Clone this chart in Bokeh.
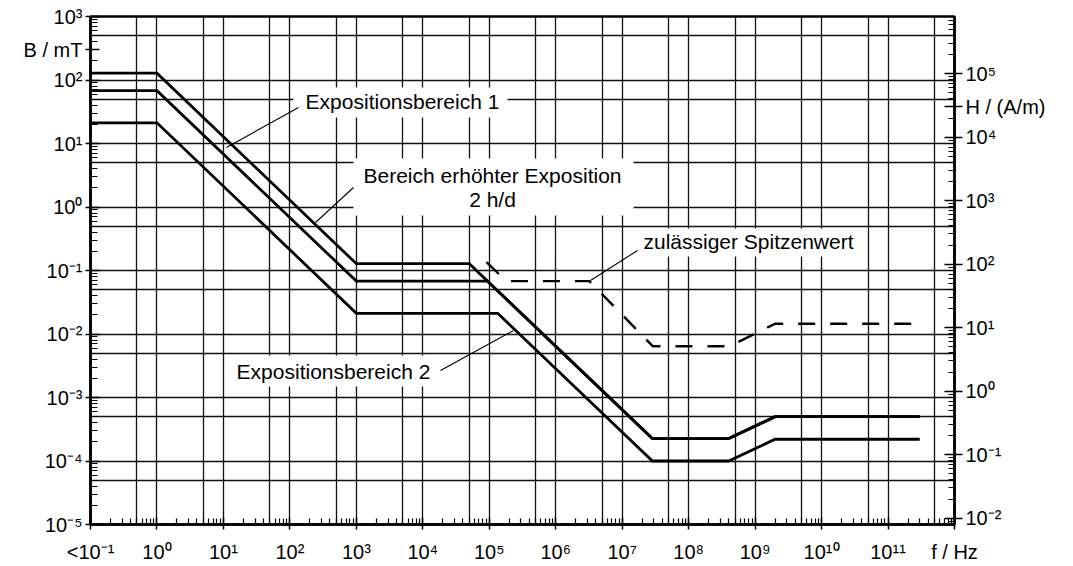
from bokeh.plotting import figure
from bokeh.models import Range1d, LogScale, LogAxis, FixedTicker, Label
from bokeh.embed import file_html
from bokeh.resources import INLINE

# ---------------- data ----------------
# Bereich erhöhter Exposition (2 h/d)
f_top = [0.1, 1, 1e3, 5e4, 2.85e7, 4e8, 2e9, 3e11]
B_top = [128, 128, 0.128, 0.128, 2.25e-4, 2.25e-4, 5.0e-4, 5.0e-4]
# Expositionsbereich 1
f_mid = [0.1, 1, 1e3, 9.4e4, 2.85e7, 4e8, 2e9, 3e11]
B_mid = [68, 68, 0.068, 0.068, 2.25e-4, 2.25e-4, 5.0e-4, 5.0e-4]
# Expositionsbereich 2
f_bot = [0.1, 1, 1e3, 1.34e5, 2.85e7, 4e8, 2e9, 3e11]
B_bot = [21.2, 21.2, 0.0212, 0.0212, 1.0e-4, 1.0e-4, 2.2e-4, 2.2e-4]
# zulässiger Spitzenwert
f_peak = [9.1e4, 1.8e5, 3.2e6, 2.9e7, 4.1e8, 2e9, 3e11]
B_peak = [0.135, 0.068, 0.068, 0.0064, 0.0064, 0.0145, 0.0145]

x_exp = list(range(-1, 12))
y_exp = list(range(-5, 4))
h_exp = list(range(-2, 6))
x_labels = ["<10⁻¹", "10⁰", "10¹", "10²", "10³", "10⁴", "10⁵", "10⁶", "10⁷",
            "10⁸", "10⁹", "10¹⁰", "10¹¹"]
y_labels = ["10⁻⁵", "10⁻⁴", "10⁻³", "10⁻²", "10⁻¹", "10⁰", "10¹", "10²", "10³"]
h_labels = ["10⁻²", "10⁻¹", "10⁰", "10¹", "10²", "10³", "10⁴", "10⁵"]

# axis titles, carried by an extra labelled tick on each axis
x_title, x_title_at = "f / Hz", 1e12
y_title, y_title_at = "B / mT", 300.0
h_title, h_title_at = "H / (A/m)", 3e4

MT_TO_AM = 1e-3 / (4e-7 * 3.141592653589793)  # B in mT -> H in A/m

FONT = "Liberation Sans"

# reference-pixel -> data helpers for annotation placement
def fx(px):
    return 10 ** (-1 + (px - 90) * 13 / 864)

def by(py):
    return 10 ** (3 - (py - 16) * 8 / 508)

p = figure(width=1072, height=565, x_axis_type="log", y_axis_type="log",
           x_range=Range1d(0.1, 1e12), y_range=Range1d(1e-5, 1e3),
           output_backend="svg", toolbar_location=None, title=None,
           min_border_left=90, min_border_right=118, min_border_top=16,
           min_border_bottom=41)
p.background_fill_color = "white"
p.border_fill_color = "white"
p.outline_line_color = "black"
p.outline_line_width = 2.5

# ticks
xt = [10.0 ** e for e in x_exp]
xm = [k * 10.0 ** e for e in x_exp for k in range(2, 10)]
yt = [10.0 ** e for e in y_exp]
ym = [k * 10.0 ** e for e in y_exp[:-1] for k in range(2, 10)]
ht = [10.0 ** e for e in h_exp]
hm = [k * 10.0 ** e for e in range(-3, 6) for k in range(2, 10)]

xa = p.xaxis[0]
xa.ticker = FixedTicker(ticks=xt + [x_title_at], minor_ticks=xm)
xo = dict(zip(xt, x_labels))
xo[x_title_at] = x_title
xa.major_label_overrides = xo
xa.major_tick_in = 7
xa.major_tick_out = 5
xa.minor_tick_in = 6
xa.minor_tick_out = 0
xa.major_label_standoff = 11

ya = p.yaxis[0]
ya.ticker = FixedTicker(ticks=yt + [y_title_at], minor_ticks=ym)
yo = dict(zip(yt, y_labels))
yo[y_title_at] = y_title
ya.major_label_overrides = yo
ya.major_tick_in = 9
ya.major_tick_out = 5
ya.minor_tick_in = 7
ya.minor_tick_out = 0
ya.major_label_standoff = 3

p.extra_y_ranges = {"H": Range1d(1e-5 * MT_TO_AM, 1e3 * MT_TO_AM)}
p.extra_y_scales = {"H": LogScale()}
ha = LogAxis(y_range_name="H", ticker=FixedTicker(ticks=ht + [h_title_at], minor_ticks=hm))
ho = dict(zip(ht, h_labels))
ho[h_title_at] = h_title
ha.major_label_overrides = ho
ha.major_tick_in = 10
ha.major_tick_out = 8
ha.minor_tick_in = 6
ha.minor_tick_out = 0
ha.major_label_standoff = 3
p.add_layout(ha, "right")

for ax in (xa, ya, ha):
    ax.axis_line_width = 2.5
    ax.axis_line_color = "black"
    ax.major_tick_line_width = 1.5
    ax.minor_tick_line_width = 1.2
    ax.major_tick_line_color = "black"
    ax.minor_tick_line_color = "black"
    ax.major_label_text_font = FONT
    ax.major_label_text_font_size = "20px"
    ax.major_label_text_color = "black"

# grid at 1 and 5 per decade
xg = [k * 10.0 ** e for e in x_exp for k in (1, 5)][1:]
yg = [k * 10.0 ** e for e in y_exp[:-1] for k in (1, 5)][1:]
p.xgrid.ticker = FixedTicker(ticks=xg)
p.ygrid.ticker = FixedTicker(ticks=yg)
for g in (p.xgrid, p.ygrid):
    g.grid_line_color = "#111111"
    g.grid_line_width = 1.3
    g.grid_line_alpha = 1.0

# white boxes behind the annotation texts
boxes = [(293, 507, 87, 117), (353, 633, 158, 215), (630, 862, 228, 256), (228, 436, 355, 386)]
p.quad(left=[fx(b[0]) for b in boxes], right=[fx(b[1]) for b in boxes],
       top=[by(b[2]) for b in boxes], bottom=[by(b[3]) for b in boxes],
       fill_color="white", line_color=None)

# curves
for fs, bs in ((f_top, B_top), (f_mid, B_mid), (f_bot, B_bot)):
    p.line(fs, bs, line_color="black", line_width=2.8, line_join="miter")
p.line(f_peak, B_peak, line_color="black", line_width=2.4, line_dash="17 15")

# leader lines
leaders = [((298, 107), (226, 147)), ((353, 187), (315, 222)),
           ((590, 280), (637, 250)), ((440, 370), (513, 330))]
for (x0, y0), (x1, y1) in leaders:
    p.line([fx(x0), fx(x1)], [by(y0), by(y1)], line_color="black", line_width=1.1)

def lab(px, py, text, size="21px", align="center"):
    p.add_layout(Label(x=fx(px), y=by(py), text=text, text_font=FONT,
                       text_font_size=size, text_align=align,
                       text_baseline="middle", text_color="black"))

lab(402, 101, "Expositionsbereich 1")
lab(492, 175, "Bereich erhöhter Exposition")
lab(492, 199, "2 h/d")
lab(748, 241, "zulässiger Spitzenwert")
lab(333, 371, "Expositionsbereich 2")

open("out.html", "w").write(file_html(p, INLINE))
